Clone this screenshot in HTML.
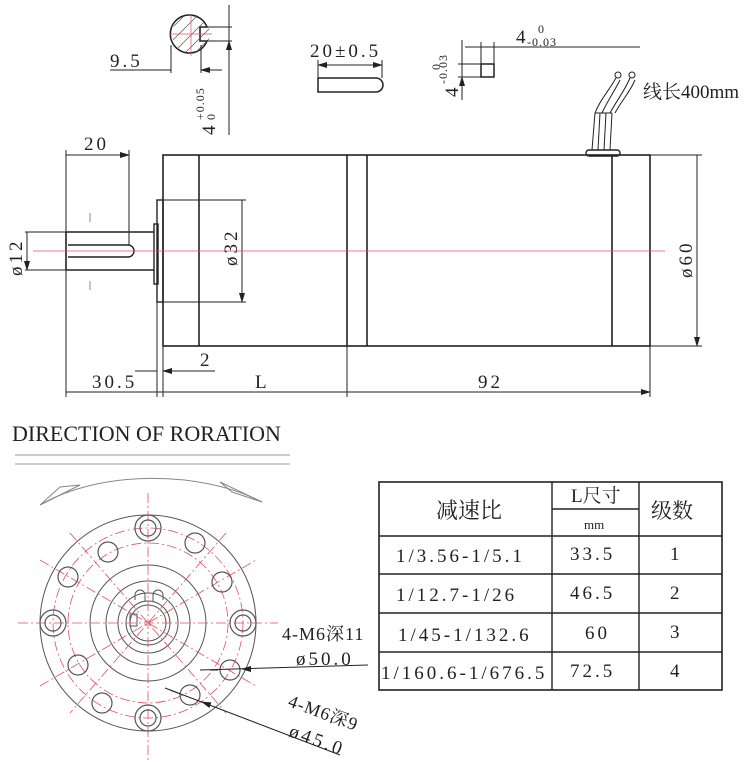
<!DOCTYPE html>
<html><head><meta charset="utf-8"><style>
body{margin:0;background:#fff}
svg{display:block}
text{font-family:"Liberation Serif","Noto Serif CJK SC",serif;fill:#222}
.n{letter-spacing:3px;font-size:19px}
</style></head><body>
<svg width="750" height="765" viewBox="0 0 750 765" xmlns="http://www.w3.org/2000/svg">
<defs>
<marker id="a" markerWidth="10" markerHeight="6" refX="9" refY="3" orient="auto-start-reverse" markerUnits="userSpaceOnUse"><path d="M0,0 L10,3 L0,6z" fill="#222"/></marker>
<clipPath id="cc"><circle cx="191" cy="34" r="19"/></clipPath>
</defs>
<g stroke="#222" fill="none" stroke-width="1">
<path d="M207,27 A19,19 0 1 0 207,41 L200,41 L200,27 Z" stroke-width="1.6"/>
<g clip-path="url(#cc)" stroke="#555" stroke-width="0.7">
<path d="M160,40 L190,10 M165,48 L203,10 M172,54 L212,14 M180,58 L215,23 M188,60 L215,33 M196,60 L215,41"/>
</g>
<path d="M170,34 L212,34 M191,14 L191,56" stroke="#e05060" stroke-width="0.7"/>
<path d="M229,5 L229,135 M205,27 L232,27 M205,41 L232,41 M171,45 L171,73 M201,45 L201,73 M110,70 L171,70"/>
<path d="M229,12 L229,27 M229,56 L229,41" marker-end="url(#a)"/>
<path d="M150,70 L171,70 M222,70 L201,70" marker-end="url(#a)"/>
<path d="M318,65 L382,65" marker-start="url(#a)" marker-end="url(#a)"/>
<path d="M318,60 L318,78 M382,60 L382,78"/>
<path d="M318,78 L376,78 A7,7 0 0 1 376,92 L318,92 Z" stroke-width="1.5"/>
<rect x="481" y="64" width="13" height="13" stroke-width="1.5"/>
<path d="M465,47 L640,47 M481,42 L481,64 M494,42 L494,64 M462,40 L462,100 M458,64 L481,64 M458,77 L481,77"/>
<path d="M465,47 L481,47 M510,47 L494,47 M462,42 L462,64 M462,98 L462,77" marker-end="url(#a)"/>
<rect x="163" y="155" width="487" height="191" stroke-width="1.6"/>
<path d="M199,155 L199,346 M347,155 L347,346 M367,155 L367,346 M612,155 L612,346" stroke-width="1.6"/>
<rect x="157" y="200" width="6" height="102" stroke-width="1.4"/>
<rect x="154" y="224" width="4" height="60" stroke-width="1.4"/>
<path d="M66,232 L154,232 M66,270 L154,270 M66,232 L66,270" stroke-width="1.6"/>
<path d="M68,245 L128,245 A6,6 0 0 1 128,257 L68,257" stroke-width="1.4"/>
<path d="M90,213 L90,222 M90,281 L90,290" stroke="#888"/>
<path d="M163,200 L246,200 M163,302 L246,302"/>
<path d="M242,210 L242,200 M242,292 L242,302" marker-end="url(#a)"/>
<path d="M242,210 L242,292"/>
<path d="M25,232 L66,232 M25,270 L66,270 M27,232 L27,270"/>
<path d="M27,242 L27,232 M27,260 L27,270" marker-end="url(#a)"/>
<path d="M66,150 L66,232 M129,150 L129,245 M66,155 L129,155"/>
<path d="M80,155 L66,155 M115,155 L129,155" marker-end="url(#a)"/>
<path d="M66,270 L66,397 M157,302 L157,397 M163,346 L163,397 M347,346 L347,397 M650,346 L650,397"/>
<path d="M66,392 L650,392"/>
<path d="M80,392 L66,392 M150,392 L163,392 M177,392 L163,392 M333,392 L347,392 M361,392 L347,392 M636,392 L650,392" marker-end="url(#a)"/>
<path d="M135,371 L157,371 M185,371 L163,371" marker-end="url(#a)"/>
<path d="M163,371 L215,371"/>
<path d="M650,155 L702,155 M650,346 L702,346 M697,155 L697,346"/>
<path d="M697,170 L697,155 M697,331 L697,346" marker-end="url(#a)"/>
<path d="M33,251 L665,251" stroke="#e05060" stroke-width="0.8"/>
<rect x="586" y="150" width="34" height="6" rx="3" stroke-width="1.4"/>
<path d="M592,150 L595,113 M598,150 L600,113 M604,150 L606,113 M610,150 L612,113 M595,113 L612,113"/>
<path d="M595,113 C600,100 608,92 616,78 M602,113 C608,100 614,92 620,80 M610,113 C617,100 624,92 630,78 M615,113 C622,100 630,92 635,80"/>
<circle cx="618" cy="75" r="3"/><circle cx="632" cy="75" r="3"/>
<path d="M15,455 L290,455 M15,464 L290,464" stroke="#999"/>
<path d="M40,505 C100,470 200,470 262,502" stroke="#888"/>
<path d="M40,505 L80,485 L60,487 Z M262,502 L220,482 L232,492 Z" stroke="#888"/>
<g stroke="#555">
<circle cx="148" cy="623" r="108"/>
<circle cx="148" cy="623" r="58"/>
<circle cx="148" cy="623" r="42"/>
<circle cx="148" cy="623" r="30"/>
<circle cx="148" cy="623" r="22"/>
<circle cx="148" cy="623" r="18"/>
<rect x="130" y="614" width="7" height="12"/>
<path d="M135,600 L135,595 A5,5 0 0 1 145,595 L145,601 M153,601 L153,595 A5,5 0 0 1 163,595 L163,600"/>
</g>
<g stroke="#e05060" stroke-width="0.8" stroke-dasharray="10,3,2,3">
<circle cx="148" cy="623" r="95"/>
<circle cx="148" cy="623" r="80"/>
<path d="M18,623 L278,623 M148,493 L148,760 M70,533 L226,713 M226,533 L70,713 M40,560 L256,686 M40,686 L256,560"/>
</g>
<g stroke="#555" stroke-width="1.2">
<circle cx="148" cy="528" r="13"/><circle cx="148" cy="528" r="8"/>
<circle cx="148" cy="718" r="13"/><circle cx="148" cy="718" r="8"/>
<circle cx="53" cy="623" r="13"/><circle cx="53" cy="623" r="8"/>
<circle cx="243" cy="623" r="13"/><circle cx="243" cy="623" r="8"/>
<circle cx="108" cy="552" r="10"/><circle cx="195" cy="543" r="10"/>
<circle cx="68" cy="577" r="10"/><circle cx="222" cy="582" r="10"/>
<circle cx="78" cy="665" r="10"/><circle cx="230" cy="670" r="10"/>
<circle cx="102" cy="703" r="10"/><circle cx="190" cy="695" r="10"/>
</g>
<path d="M200,670 L368,665"/>
<path d="M210,670 L218,670 M250,669 L242,669" marker-end="url(#a)"/>
<path d="M165,688 L340,755"/>
<path d="M170,690 L178,693 M210,705 L202,702" marker-end="url(#a)"/>
<rect x="379" y="482" width="343" height="208" stroke-width="1.6"/>
<path d="M552,482 L552,690 M639,482 L639,690 M552,509 L639,509 M379,536 L722,536 M379,574 L722,574 M379,613 L722,613 M379,652 L722,652" stroke-width="1.4"/>
</g>
<g font-size="17">
<text class="n" x="110" y="67">9.5</text>
<text class="n" transform="translate(215,135) rotate(-90)">4</text>
<text transform="translate(204,120) rotate(-90)" font-size="12" letter-spacing="1">+0.05</text>
<text transform="translate(215,120) rotate(-90)" font-size="12">0</text>
<text class="n" x="310" y="57" font-size="21" letter-spacing="1">20±0.5</text>
<text x="516" y="43" font-size="19">4</text>
<text x="527" y="46" font-size="12" letter-spacing="1">-0.03</text>
<text x="538" y="33" font-size="12">0</text>
<text transform="translate(458,97) rotate(-90)" font-size="19">4</text>
<text transform="translate(447,84) rotate(-90)" font-size="12" letter-spacing="1">-0.03</text>
<text transform="translate(440,70) rotate(-90)" font-size="12">0</text>
<text x="643" y="98" font-size="19">线长400mm</text>
<text class="n" x="84" y="150">20</text>
<text class="n" transform="translate(22,276) rotate(-90)">ø12</text>
<text class="n" transform="translate(237,266) rotate(-90)">ø32</text>
<text class="n" transform="translate(692,278) rotate(-90)">ø60</text>
<text class="n" x="200" y="366">2</text>
<text class="n" x="92" y="388">30.5</text>
<text class="n" x="255" y="388">L</text>
<text class="n" x="478" y="388">92</text>
<text x="12" y="441" font-size="22" font-family="Liberation Mono,monospace">DIRECTION OF RORATION</text>
<text x="282" y="640" font-size="18" letter-spacing="1">4-M6深11</text>
<text class="n" x="296" y="665">ø50.0</text>
<text transform="translate(287,706) rotate(20)" font-size="18" letter-spacing="1">4-M6深9</text>
<text class="n" transform="translate(288,736) rotate(20)">ø45.0</text>
<text x="436" y="518" font-size="22">减速比</text>
<text x="571" y="502" font-size="19">L尺寸</text>
<text x="584" y="529" font-size="13">mm</text>
<text x="651" y="518" font-size="21">级数</text>
<text class="n" x="396" y="562">1/3.56-1/5.1</text>
<text class="n" x="570" y="560">33.5</text>
<text class="n" x="670" y="560">1</text>
<text class="n" x="396" y="601">1/12.7-1/26</text>
<text class="n" x="570" y="599">46.5</text>
<text class="n" x="670" y="599">2</text>
<text class="n" x="398" y="641">1/45-1/132.6</text>
<text class="n" x="585" y="639">60</text>
<text class="n" x="670" y="638">3</text>
<text class="n" x="381" y="679" letter-spacing="2.6">1/160.6-1/676.5</text>
<text class="n" x="570" y="677">72.5</text>
<text class="n" x="670" y="677">4</text>
</g>
</svg>
</body></html>
